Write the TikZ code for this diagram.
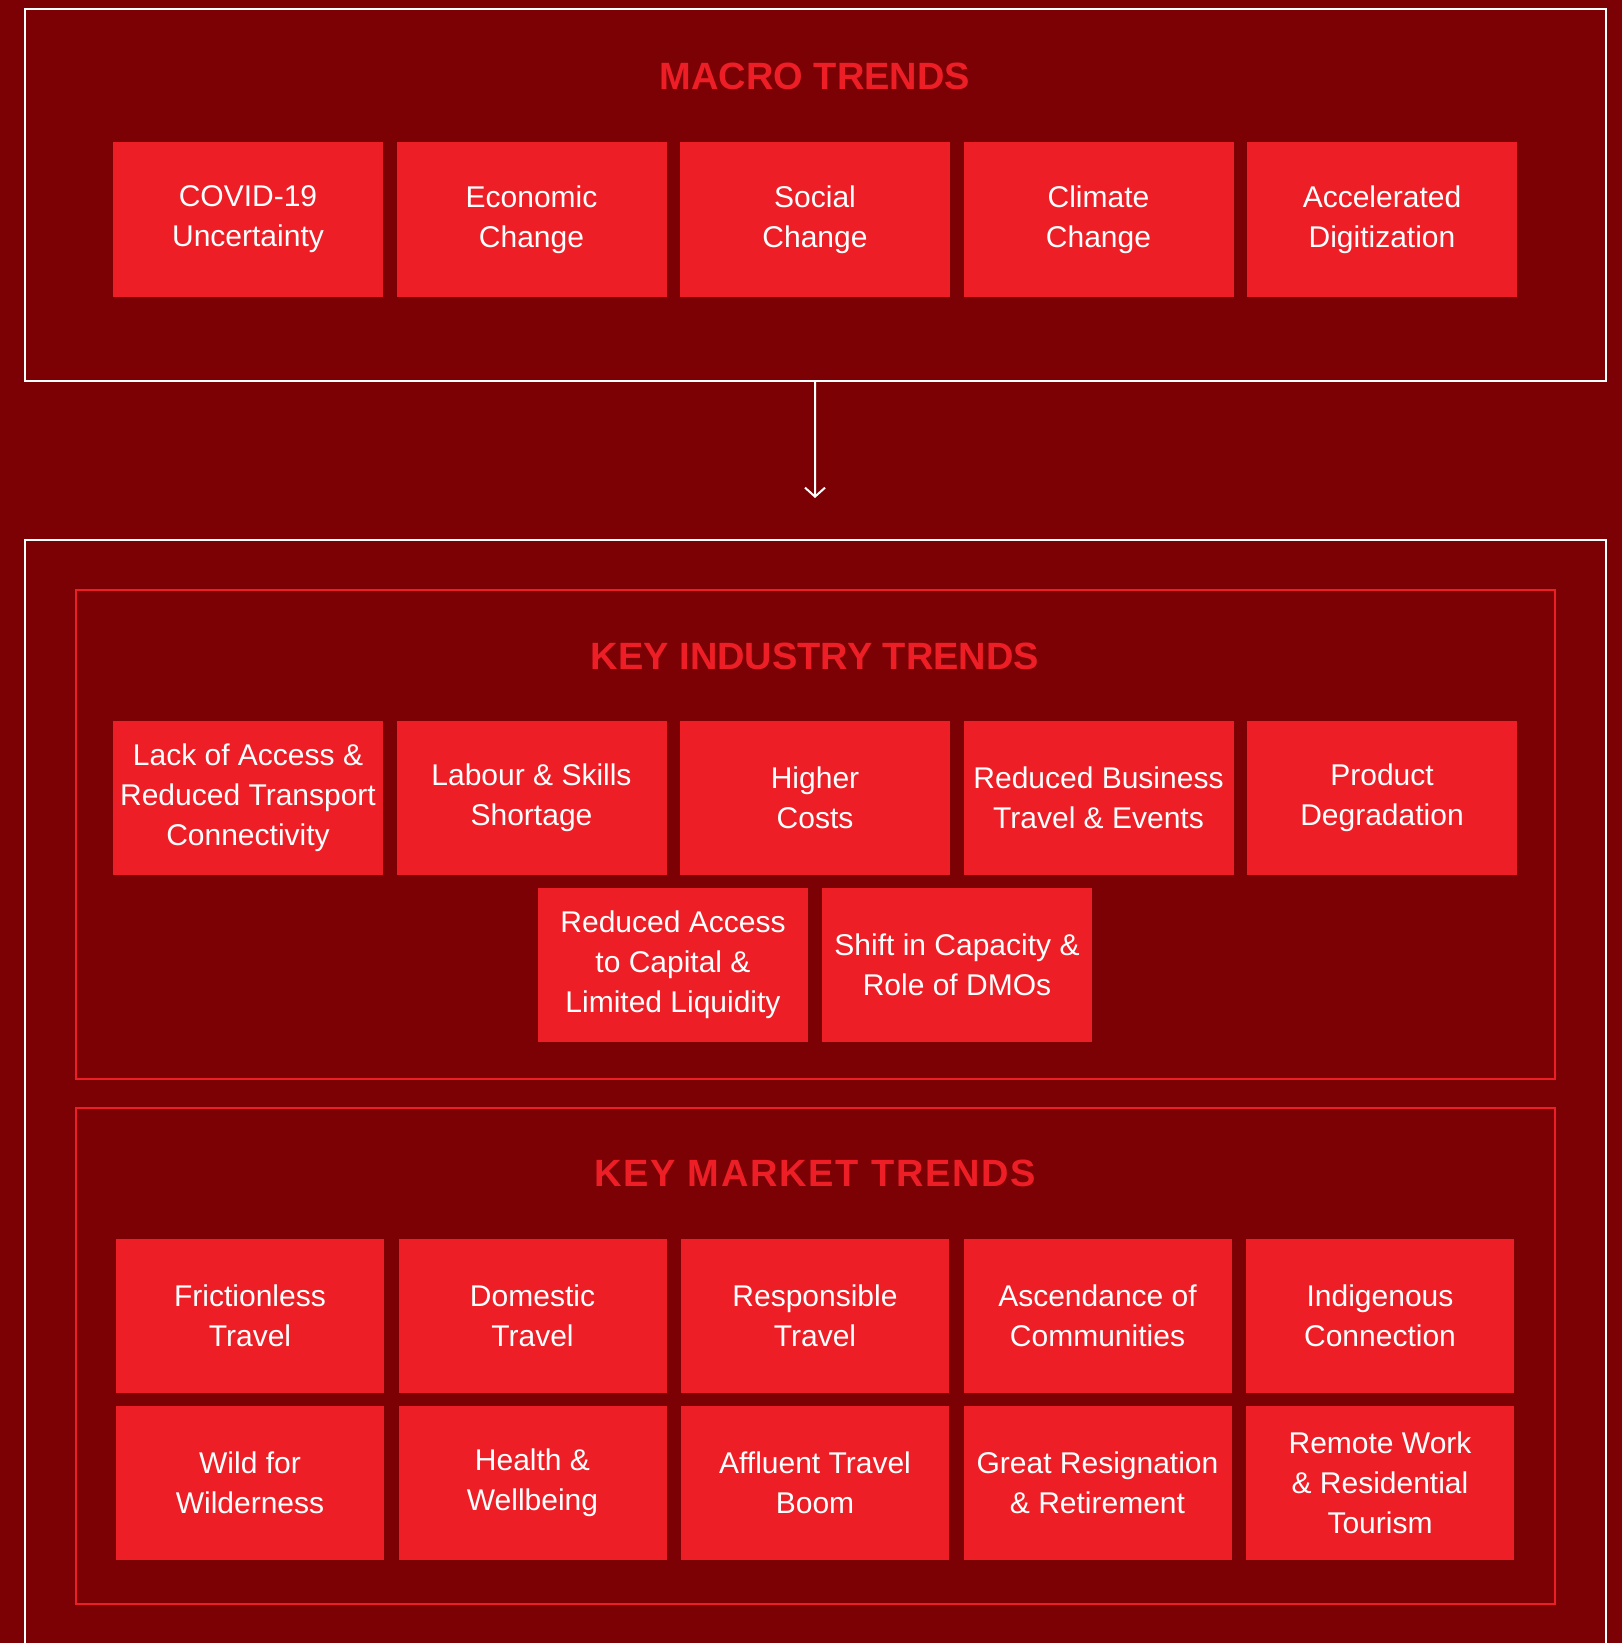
\documentclass[tikz,border=0pt]{standalone}
\usepackage{fontspec}
\setmainfont{Liberation Sans}
\usetikzlibrary{arrows.meta}

\definecolor{fondo}{RGB}{123,1,5}
\definecolor{rojo}{RGB}{237,30,38}

\tikzstyle{marco}= [rectangle,draw=white,line width=2pt,inner sep=0pt]
\tikzstyle{grupo}= [rectangle,draw=rojo,line width=2pt,inner sep=0pt]
\tikzstyle{titulo}= [text=rojo,inner sep=0pt,font=\fontsize{38}{44}\selectfont\bfseries]
\tikzstyle{tendencia}= [rectangle,fill=rojo,text=white,inner sep=0pt,align=center,minimum width=270pt,minimum height=154pt,font=\fontsize{30}{40}\selectfont]
\tikzstyle{mercado}= [tendencia,minimum width=268pt]
\tikzstyle{flecha}= [white,line width=2pt,-{Straight Barb[length=9pt,width=20pt,line width=2pt]}]

\begin{document}
\begin{tikzpicture}[x=1pt,y=-1pt]

		\useasboundingbox (0,0) rectangle (1622,1643);
		\fill[fondo] (0,0) rectangle (1622,1643);

		% macro trends
		\node (macro) at (815.5,195.25) [marco,minimum width=1581pt,minimum height=371.5pt] {};
		\node (tmacro) at (815,76.5) [titulo] {MACRO TRENDS};

		\node (m1) at (248,219.5) [tendencia] {COVID-19\\Uncertainty};
		\node (m2) at (531.5,219.5) [tendencia] {Economic\\Change};
		\node (m3) at (815,219.5) [tendencia] {Social\\Change};
		\node (m4) at (1098.5,219.5) [tendencia] {Climate\\Change};
		\node (m5) at (1382,219.5) [tendencia] {Accelerated\\Digitization};

		\coordinate (punta) at (815,498);
		\path[flecha] (macro) edge[] node {} (punta);

		% lower frame, open at the bottom
		\node (clave) at (815.5,1120) [marco,minimum width=1581pt,minimum height=1160pt] {};

		% key industry trends
		\node (industria) at (815.5,834.5) [grupo,minimum width=1479pt,minimum height=489pt] {};
		\node (tind) at (815,656) [titulo] {KEY INDUSTRY TRENDS};

		\node (i1) at (248,797.5) [tendencia] {Lack of Access \&\\Reduced Transport\\Connectivity};
		\node (i2) at (531.5,797.5) [tendencia] {Labour \& Skills\\Shortage};
		\node (i3) at (815,797.5) [tendencia] {Higher\\Costs};
		\node (i4) at (1098.5,797.5) [tendencia] {Reduced Business\\Travel \& Events};
		\node (i5) at (1382,797.5) [tendencia] {Product\\Degradation};
		\node (i6) at (673,965) [tendencia] {Reduced Access\\to Capital \&\\Limited Liquidity};
		\node (i7) at (957,965) [tendencia] {Shift in Capacity \&\\Role of DMOs};

		% key market trends
		\node (mercados) at (815.5,1355.75) [grupo,minimum width=1479pt,minimum height=496.5pt] {};
		\node (tmer) at (815,1173.5) [titulo] {\addfontfeatures{LetterSpace=4.5}KEY MARKET TRENDS};

		\node (k1) at (250,1315.5) [mercado] {Frictionless\\Travel};
		\node (k2) at (532.5,1315.5) [mercado] {Domestic\\Travel};
		\node (k3) at (815,1315.5) [mercado] {Responsible\\Travel};
		\node (k4) at (1097.5,1315.5) [mercado] {Ascendance of\\Communities};
		\node (k5) at (1380,1315.5) [mercado] {Indigenous\\Connection};
		\node (k6) at (250,1483) [mercado] {Wild for\\Wilderness};
		\node (k7) at (532.5,1483) [mercado] {Health \&\\Wellbeing};
		\node (k8) at (815,1483) [mercado] {Affluent Travel\\Boom};
		\node (k9) at (1097.5,1483) [mercado] {Great Resignation\\\& Retirement};
		\node (k10) at (1380,1483) [mercado] {Remote Work\\\& Residential\\Tourism};

	\end{tikzpicture}
\end{document}
